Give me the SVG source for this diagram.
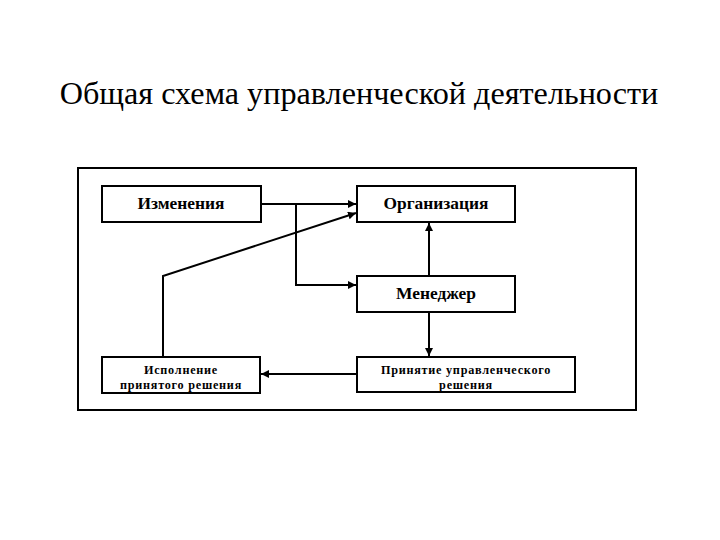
<svg xmlns="http://www.w3.org/2000/svg" width="720" height="540" viewBox="0 0 720 540">
<style>
.box{fill:#fff;stroke:#000;stroke-width:2}
.c{fill:none;stroke:#000;stroke-width:2}
.t{font-family:"Liberation Serif",serif;font-weight:bold;fill:#000;text-anchor:middle}
.s{font-size:12.2px;letter-spacing:0.75px}
</style>
<defs>
<marker id="a" viewBox="0 0 10 10" refX="10" refY="5" markerWidth="4" markerHeight="4" orient="auto" markerUnits="strokeWidth">
<path d="M0,0 L10,5 L0,10 z" fill="#000"/>
</marker>
</defs>
<rect width="720" height="540" fill="#fff"/>
<text x="359" y="104" font-family="Liberation Serif, serif" font-size="32.2" text-anchor="middle" fill="#000">Общая схема управленческой деятельности</text>
<rect x="78" y="168" width="558" height="242" fill="none" stroke="#000" stroke-width="2"/>
<g id="connectors">
<path class="c" d="M261,204 H356" marker-end="url(#a)"/>
<path class="c" d="M296,204 V285 H356" marker-end="url(#a)"/>
<path class="c" d="M163,357 V276 L356,213" marker-end="url(#a)"/>
<path class="c" d="M429,276 V223" marker-end="url(#a)"/>
<path class="c" d="M429,312 V356" marker-end="url(#a)"/>
<path class="c" d="M357,374 H261" marker-end="url(#a)"/>
</g>
<g id="izmeneniya">
<rect class="box" x="102" y="186" width="159" height="36"/>
<text class="t" x="181" y="209" font-size="17.4">Изменения</text>
</g>
<g id="organizaciya">
<rect class="box" x="357" y="186" width="158" height="36"/>
<text class="t" x="436" y="209" font-size="17.4">Организация</text>
</g>
<g id="menedzher">
<rect class="box" x="357" y="276" width="158" height="36"/>
<text class="t" x="436" y="299" font-size="17.4">Менеджер</text>
</g>
<g id="ispolnenie">
<rect class="box" x="102" y="357" width="158" height="36"/>
<text class="t s" x="181" y="374">Исполнение</text>
<text class="t s" x="181" y="389">принятого решения</text>
</g>
<g id="prinyatie">
<rect class="box" x="357" y="357" width="218" height="35"/>
<text class="t s" x="466" y="374">Принятие управленческого</text>
<text class="t s" x="466" y="389">решения</text>
</g>
</svg>
